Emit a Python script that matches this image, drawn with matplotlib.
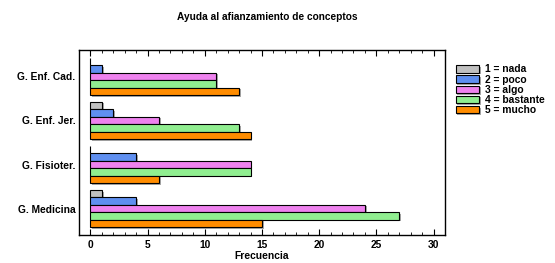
import numpy as np
import matplotlib
matplotlib.use("Agg")
import matplotlib.pyplot as plt
import matplotlib.patheffects as pe
from matplotlib.ticker import MultipleLocator

groups = ["G. Medicina", "G. Fisioter.", "G. Enf. Jer.", "G. Enf. Cad."]
levels = ["1 = nada", "2 = poco", "3 = algo", "4 = bastante", "5 = mucho"]
colors = ["#c0c0c0", "#5f8ff0", "#ee82ee", "#90ee90", "#ff8c00"]

# values per level, in the order of groups
nada = [1, 0, 1, 0]
poco = [4, 4, 2, 1]
algo = [24, 14, 6, 11]
bastante = [27, 14, 13, 11]
mucho = [15, 6, 14, 13]
series = [nada, poco, algo, bastante, mucho]


def main():
    plt.rcParams['font.family'] = ['Liberation Sans', 'DejaVu Sans']
    plt.rcParams['font.weight'] = 'bold'

    fig = plt.figure(figsize=(5.55, 2.63), dpi=100)
    ax = fig.add_axes([0.1423, 0.1065, 0.6595, 0.7034])

    y = np.arange(len(groups))
    h = 0.17
    shadow = [pe.SimplePatchShadow(offset=(1.2, -1.2), shadow_rgbFace="#a8a8a8", alpha=1.0), pe.Normal()]
    for i, (vals, c, lab) in enumerate(zip(series, colors, levels)):
        pos = y + (2 - i) * h
        bars = ax.barh(pos, vals, height=h, color=c, edgecolor="black",
                       linewidth=0.8, label=lab)
        for b in bars:
            b.set_path_effects(shadow)

    ax.set_xlim(-1, 31)
    ax.set_ylim(-0.6, 3.6)
    ax.set_yticks(y)
    ax.set_yticklabels(groups, fontsize=7.4, fontweight="bold")
    ax.xaxis.set_major_locator(MultipleLocator(5))
    ax.xaxis.set_minor_locator(MultipleLocator(1))
    ax.tick_params(axis="x", which="both", direction="in", top=True, labelsize=7.4, pad=3.5)
    ax.tick_params(axis="x", which="major", length=4)
    ax.tick_params(axis="x", which="minor", length=2)
    ax.tick_params(axis="y", length=0, pad=2.5)
    for lbl in ax.get_xticklabels():
        lbl.set_fontweight("bold")
    for s in ax.spines.values():
        s.set_linewidth(1.0)

    ax.set_xlabel("Frecuencia", fontsize=7.4, fontweight="bold", labelpad=1)
    fig.text(0.482, 0.935, "Ayuda al afianzamiento de conceptos", ha="center",
             va="center", fontsize=7.3, fontweight="bold")

    ax.legend(loc="upper left", bbox_to_anchor=(1.012, 0.955), frameon=False,
              fontsize=7.4, handlelength=2.3, handleheight=0.75, labelspacing=0.02,
              handletextpad=0.6, borderaxespad=0.2)

    fig.savefig("out.png", dpi=100)


if __name__ == "__main__":
    main()
